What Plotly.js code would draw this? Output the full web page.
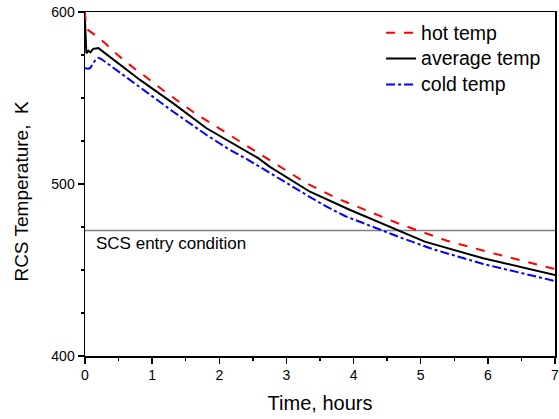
<!DOCTYPE html>
<html>
<head>
<meta charset="utf-8">
<script src="https://cdn.plot.ly/plotly-3.0.1.min.js"></script>
<style>html,body{margin:0;padding:0;background:#fff;}#chart{width:559px;height:419px;}</style>
</head>
<body>
<div id="chart"></div>
<script>
// Hot leg temperature (K) vs time (hours)
const hotTime = [0, 0.01, 0.03, 0.15, 0.3, 0.43, 0.58, 0.73, 0.87, 1.19, 1.64, 2.16, 2.63, 2.83, 3.3, 3.75, 4.245, 4.47, 4.69, 5.39, 6.08, 6.95, 7.0];
const hotTemp = [600, 594, 590, 586.6, 581.8, 576.9, 572.1, 567.3, 563.4, 553.7, 541.1, 528.5, 516.9, 512, 500.4, 491.7, 483.9, 480, 476.7, 467, 459.7, 451, 450.7];

// Average temperature (K)
const avgTime = [0, 0.005, 0.01, 0.02, 0.05, 0.08, 0.12, 0.2, 0.82, 1.315, 1.81, 2.58, 2.755, 3.35, 3.95, 4.245, 4.69, 5.06, 5.93, 7.0];
const avgTemp = [595, 588, 580, 576, 577.5, 576.5, 578.5, 579, 560.5, 546.9, 532.4, 515, 510, 495.5, 484.9, 480, 472.9, 466.5, 456.8, 447.1];

// Cold leg temperature (K)
const coldTime = [0, 0.05, 0.08, 0.12, 0.16, 0.2, 0.25, 0.6, 0.84, 1.315, 1.81, 2.16, 2.41, 2.755, 3.3, 3.6, 3.87, 4.69, 5.19, 5.93, 7.0];
const coldTemp = [567.3, 567, 567.5, 570, 572.5, 573.4, 572.5, 562.5, 555.6, 542, 528.5, 519.8, 514.5, 506.2, 493.6, 486.8, 481.4, 469, 462, 453.5, 443.6];

// SCS entry condition
const scsTime = [0, 7];
const scsTemp = [473, 473];
const scsLabel = "SCS entry condition";

const seriesNames = ["hot temp", "average temp", "cold temp"];

const xTicks = [0, 1, 2, 3, 4, 5, 6, 7];
const yTicks = [400, 500, 600];

const font = "Liberation Sans, Arial, sans-serif";
const big = s => '<span style="font-size:19.5px">' + s + '</span>';

const traces = [
  {x: scsTime, y: scsTemp, mode: "lines", line: {color: "#808080", width: 1.5}, showlegend: false, hoverinfo: "skip"},
  {x: hotTime, y: hotTemp, name: big(seriesNames[0]), mode: "lines", line: {color: "#ff0000", width: 2, dash: "dash"}},
  {x: avgTime, y: avgTemp, name: big(seriesNames[1]), mode: "lines", line: {color: "#000000", width: 2}},
  {x: coldTime, y: coldTemp, name: big(seriesNames[2]), mode: "lines", line: {color: "#0000ff", width: 2, dash: "dashdot"}}
];

const layout = {
  width: 559, height: 419,
  margin: {l: 85, r: 4, t: 12, b: 63},
  paper_bgcolor: "#fff", plot_bgcolor: "#fff",
  font: {family: font, color: "#000"},
  showlegend: true,
  legend: {x: 0.981, y: 0.992, xanchor: "right", yanchor: "top", bgcolor: "rgba(0,0,0,0)", font: {size: 17.6, family: font}, itemwidth: 30, tracegroupgap: 0},
  xaxis: {
    range: [0, 7], tickvals: xTicks, ticktext: xTicks.map(String), ticklabeloverflow: "allow",
    showgrid: false, zeroline: false, showline: true, linecolor: "#000", linewidth: 1.5, mirror: true,
    ticks: "outside", ticklen: 6, tickwidth: 1.5, tickcolor: "#000",
    tickfont: {size: 14, family: font},
    minor: {dtick: 0.5, ticks: "outside", ticklen: 3, tickwidth: 1.5, tickcolor: "#000", showgrid: false},
    title: {text: "Time, hours", font: {size: 20, family: font}, standoff: 13},
    automargin: false
  },
  yaxis: {
    range: [400, 600], tickvals: yTicks, ticktext: yTicks.map(String), ticklabeloverflow: "allow",
    showgrid: false, zeroline: false, showline: true, linecolor: "#000", linewidth: 1.5, mirror: true,
    ticks: "outside", ticklen: 6, tickwidth: 1.5, tickcolor: "#000",
    tickfont: {size: 14, family: font},
    minor: {dtick: 25, ticks: "outside", ticklen: 3, tickwidth: 1.5, tickcolor: "#000", showgrid: false},
    automargin: false
  },
  annotations: [
    {x: 0.14, y: scsTemp[0], xref: "x", yref: "y", text: scsLabel, showarrow: false, xanchor: "left", yanchor: "top", yshift: -2, font: {size: 17, family: font}},
    {x: 0, y: 0.478, xref: "paper", yref: "paper", xshift: -63, text: "RCS Temperature,&nbsp; K", textangle: -90, showarrow: false, xanchor: "center", yanchor: "middle", font: {size: 19, family: font}}
  ]
};

Plotly.newPlot("chart", traces, layout, {displayModeBar: false, staticPlot: true});
</script>
</body>
</html>
